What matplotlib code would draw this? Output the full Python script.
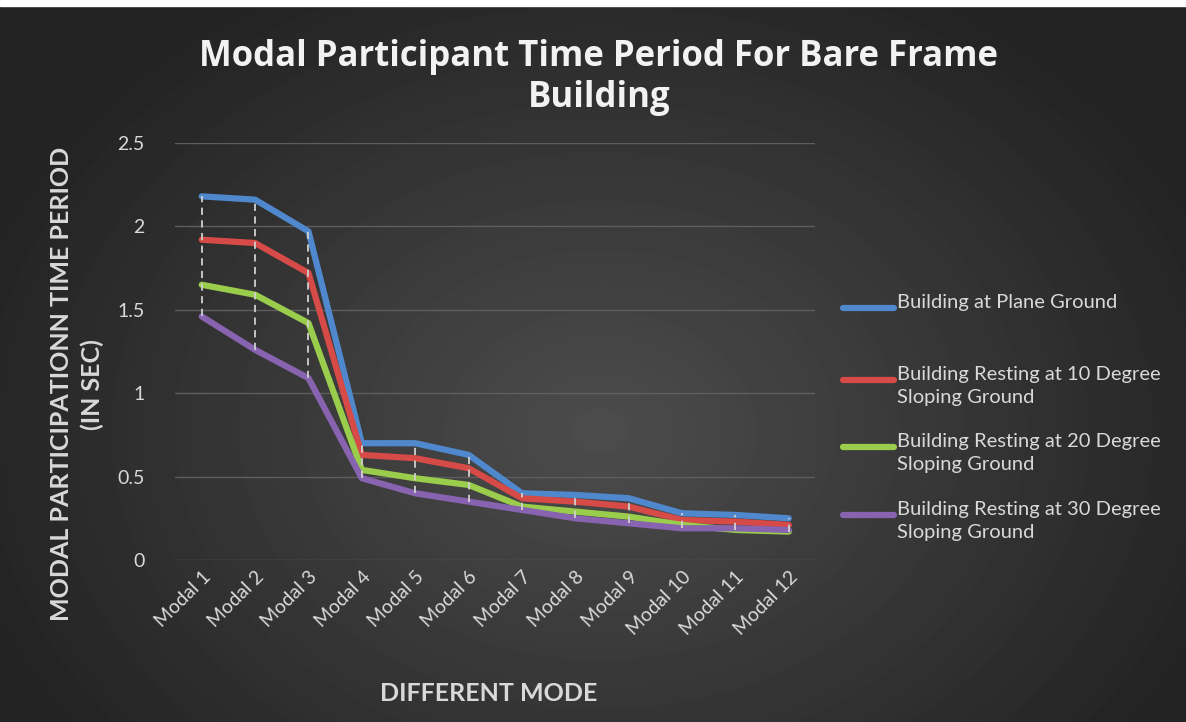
import numpy as np
import matplotlib.pyplot as plt
from matplotlib.lines import Line2D
from matplotlib.patches import Rectangle

# values
modes = ['Modal 1', 'Modal 2', 'Modal 3', 'Modal 4', 'Modal 5', 'Modal 6',
         'Modal 7', 'Modal 8', 'Modal 9', 'Modal 10', 'Modal 11', 'Modal 12']
plane = [2.18, 2.16, 1.97, 0.70, 0.70, 0.63, 0.40, 0.39, 0.37, 0.28, 0.27, 0.25]
slope10 = [1.92, 1.90, 1.72, 0.63, 0.61, 0.55, 0.37, 0.35, 0.32, 0.24, 0.23, 0.21]
slope20 = [1.65, 1.59, 1.42, 0.54, 0.49, 0.45, 0.32, 0.29, 0.26, 0.21, 0.18, 0.17]
slope30 = [1.46, 1.26, 1.09, 0.49, 0.40, 0.35, 0.30, 0.25, 0.22, 0.19, 0.19, 0.18]

names = ['Building at Plane Ground',
         'Building Resting at 10 Degree\nSloping Ground',
         'Building Resting at 20 Degree\nSloping Ground',
         'Building Resting at 30 Degree\nSloping Ground']
colors = ['#4f88cc', '#d64a47', '#9acd4c', '#8863b0']
data = [plane, slope10, slope20, slope30]

fig = plt.figure(figsize=(11.86, 7.22), dpi=100)

# radial dark background
bg = fig.add_axes([0, 0, 1, 1], zorder=-10)
yy, xx = np.mgrid[0:722, 0:1186]
r = np.sqrt(((xx - 600) / 650.0) ** 2 + ((yy - 430) / 500.0) ** 2)
shade = np.clip(0.30 - 0.16 * r, 0.14, 0.30)
bg.imshow(shade, cmap='gray', vmin=0, vmax=1, aspect='auto', extent=[0, 1, 0, 1])
bg.axis('off')
# thin white strip at the very top (crop edge in the original)
fig.patches.append(Rectangle((0, 1 - 6 / 722), 1, 6 / 722, transform=fig.transFigure,
                             color='white', zorder=-5))

ax = fig.add_axes([0.1476, 0.2244, 0.54, 0.5776])
ax.patch.set_alpha(0)
x = np.arange(1, len(modes) + 1)

for name, vals, col in zip(names, data, colors):
    ax.plot(x, vals, color=col, lw=4.5, label=name, solid_capstyle='round',
            solid_joinstyle='round', zorder=3)

# high-low lines
allv = np.array(data)
ax.vlines(x, allv.min(axis=0), allv.max(axis=0), colors='#d0d0d0',
          linestyles=(0, (4, 3)), lw=1.3, zorder=4)

ax.set_xlim(0.5, 12.5)
ax.set_ylim(0, 2.5)
ax.set_yticks([0, 0.5, 1, 1.5, 2, 2.5])
ax.set_yticklabels(['0', '0.5', '1', '1.5', '2', '2.5'])
ax.set_xticks(x)
ax.set_xticklabels(modes, rotation=45, ha='right', rotation_mode='anchor')
ax.tick_params(colors='#d9d9d9', labelsize=14, length=0)
ax.tick_params(axis='y', pad=22)
ax.tick_params(axis='x', pad=6)
for lab in ax.get_xticklabels() + ax.get_yticklabels():
    lab.set_family('Lato')
ax.grid(axis='y', color='#5e5e5e', lw=1)
ax.set_axisbelow(True)
for s in ax.spines.values():
    s.set_visible(False)

fig.text(0.505, 0.893, 'Modal Participant Time Period For Bare Frame\nBuilding',
         ha='center', va='center', fontsize=25, fontweight='bold',
         color='#f2f2f2', family='Open Sans', linespacing=1.2)
fig.text(0.065, 0.468, 'MODAL PARTICIPATIONN TIME PERIOD\n(IN SEC)',
         rotation=90, ha='center', va='center', fontsize=18, fontweight='bold',
         color='#d9d9d9', family='Lato', linespacing=1.35)
fig.text(0.412, 0.040, 'DIFFERENT MODE', ha='center', va='center',
         fontsize=18, fontweight='bold', color='#d9d9d9', family='Lato')

# legend, handle aligned with the first line of each label
leg_y = [308, 380, 447, 515]
for name, col, yp in zip(names, colors, leg_y):
    fy = 1 - yp / 722
    fig.add_artist(Line2D([843 / 1186, 894 / 1186], [fy, fy], color=col, lw=4.5,
                          solid_capstyle='round', transform=fig.transFigure))
    fig.text(897 / 1186, fy + 14 / 722, name, ha='left', va='top', fontsize=14.5,
             color='#d9d9d9', family='Lato', linespacing=1.4)

plt.savefig('out.png', dpi=100)
